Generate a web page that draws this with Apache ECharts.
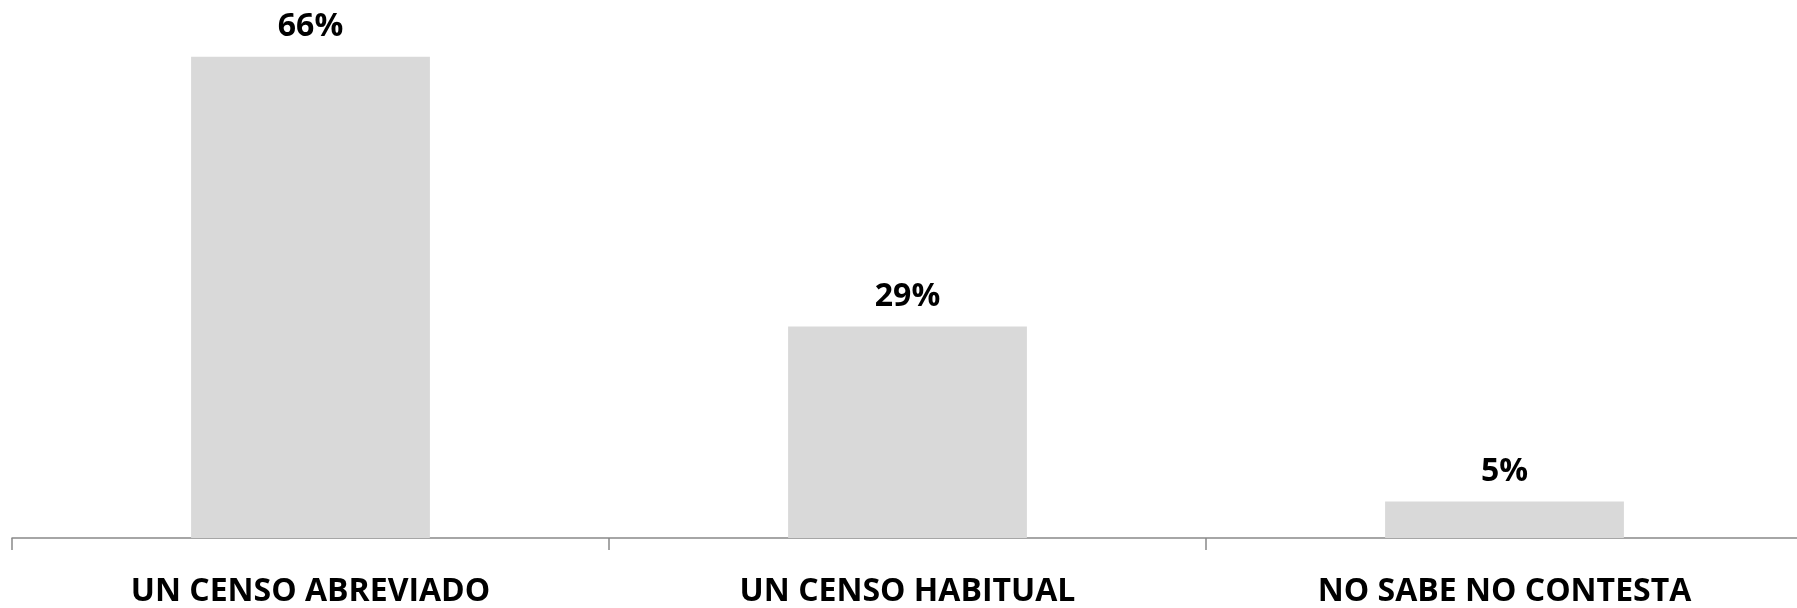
<!DOCTYPE html>
<html>
<head>
<meta charset="utf-8">
<script src="https://cdn.jsdelivr.net/npm/echarts@6/dist/echarts.min.js"></script>
<style>
html,body{margin:0;padding:0;background:#fff;}
#wrap{position:relative;width:1797px;height:608px;overflow:hidden;}
#chart{position:absolute;left:0;top:0;width:1803px;height:608px;}
</style>
</head>
<body>
<div id="wrap"><div id="chart"></div></div>
<script>
const categories = ["UN CENSO ABREVIADO", "UN CENSO HABITUAL", "NO SABE NO CONTESTA"];
const values = [66, 29, 5];

const chart = echarts.init(document.getElementById('chart'), null, {renderer: 'canvas'});
chart.setOption({
  animation: false,
  grid: {left: 12, right: 0, top: 27.5, bottom: 64, containLabel: false},
  xAxis: {
    type: 'category',
    data: categories,
    axisLine: {lineStyle: {color: '#898989', width: 1.5}},
    axisTick: {show: true, length: 12, lineStyle: {color: '#898989', width: 1.5}},
    axisLabel: {
      margin: 38,
      color: '#000',
      fontFamily: 'Open Sans',
      fontWeight: 'bold',
      fontSize: 32
    }
  },
  yAxis: {
    type: 'value',
    min: 0,
    max: 70,
    show: false,
    splitLine: {show: false}
  },
  series: [{
    type: 'bar',
    data: values,
    barWidth: '40%',
    itemStyle: {color: '#d9d9d9'},
    label: {
      show: true,
      position: 'top',
      distance: 14,
      formatter: '{c}%',
      color: '#000',
      fontFamily: 'Open Sans',
      fontWeight: 'bold',
      fontSize: 32
    }
  }]
});
</script>
</body>
</html>
